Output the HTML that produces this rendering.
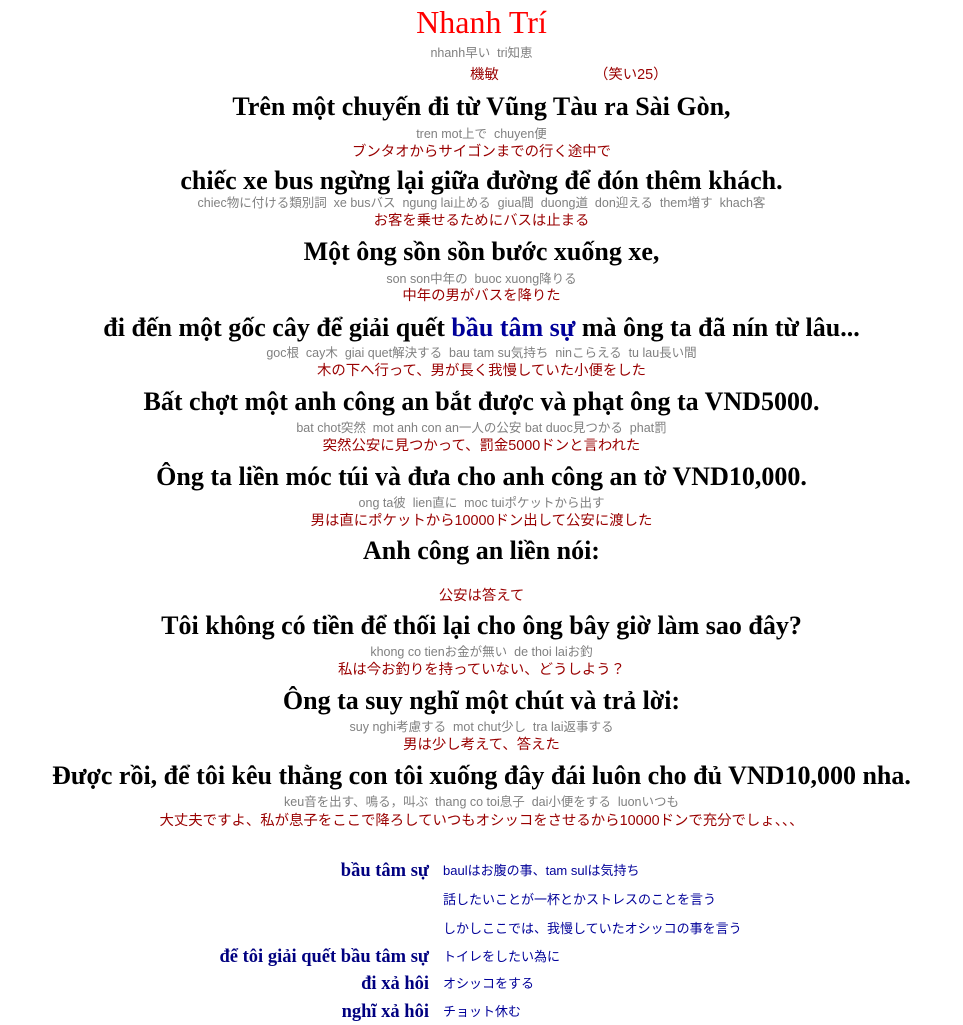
<!DOCTYPE html>
<html><head><meta charset="utf-8"><style>
body{margin:0;background:#fff;width:963px;height:1025px;position:relative;overflow:hidden}
.l{position:absolute;left:0;width:963px;text-align:center;white-space:nowrap}
.t{font-family:"Liberation Serif","Noto Serif CJK SC",serif;font-weight:bold;font-size:26px;line-height:30px;height:30px;color:#000}
.g{font-family:"Liberation Sans","Noto Sans CJK JP",sans-serif;font-size:12.5px;line-height:14px;height:14px;color:#808080}
.r{font-family:"Liberation Sans","Noto Sans CJK JP",sans-serif;font-size:14.4px;line-height:18px;height:18px;color:#990000}
.b{color:#000099}
.k{position:absolute;right:534px;font-family:"Liberation Serif",serif;font-weight:bold;font-size:18.5px;line-height:22px;color:#000080;white-space:nowrap}
.j{position:absolute;left:443px;font-family:"Liberation Sans","Noto Sans CJK JP",sans-serif;font-size:13px;line-height:16px;color:#000099;white-space:nowrap}
</style></head><body>
<div class="l" style="top:4px;font-family:'Liberation Serif',serif;font-size:32px;line-height:36px;color:#ff0000">Nhanh Trí</div>
<div class="l g" style="top:46px">nhanh早い&nbsp; tri知恵</div>
<div style="position:absolute;left:470px;top:66px" class="r">機敏</div>
<div style="position:absolute;left:594px;top:66px" class="r">（笑い25）</div>
<div class="l t" style="top:92px">Trên một chuyến đi từ Vũng Tàu ra Sài Gòn,</div>
<div class="l g" style="top:127px">tren mot上で&nbsp; chuyen便</div>
<div class="l r" style="top:143px">ブンタオからサイゴンまでの行く途中で</div>
<div class="l t" style="top:166px">chiếc xe bus ngừng lại giữa đường để đón thêm khách.</div>
<div class="l g" style="top:196px">chiec物に付ける類別詞&nbsp; xe busバス&nbsp; ngung lai止める&nbsp; giua間&nbsp; duong道&nbsp; don迎える&nbsp; them増す&nbsp; khach客</div>
<div class="l r" style="top:212px">お客を乗せるためにバスは止まる</div>
<div class="l t" style="top:237px">Một ông sồn sồn bước xuống xe,</div>
<div class="l g" style="top:272px">son son中年の&nbsp; buoc xuong降りる</div>
<div class="l r" style="top:287px">中年の男がバスを降りた</div>
<div class="l t" style="top:313px">đi đến một gốc cây để giải quết <span class="b">bầu tâm sự</span> mà ông ta đã nín từ lâu...</div>
<div class="l g" style="top:346px">goc根&nbsp; cay木&nbsp; giai quet解決する&nbsp; bau tam su気持ち&nbsp; ninこらえる&nbsp; tu lau長い間</div>
<div class="l r" style="top:362px">木の下へ行って、男が長く我慢していた小便をした</div>
<div class="l t" style="top:387px">Bất chợt một anh công an bắt được và phạt ông ta VND5000.</div>
<div class="l g" style="top:421px">bat chot突然&nbsp; mot anh con an一人の公安 bat duoc見つかる&nbsp; phat罰</div>
<div class="l r" style="top:437px">突然公安に見つかって、罰金5000ドンと言われた</div>
<div class="l t" style="top:462px">Ông ta liền móc túi và đưa cho anh công an tờ VND10,000.</div>
<div class="l g" style="top:496px">ong ta彼&nbsp; lien直に&nbsp; moc tuiポケットから出す</div>
<div class="l r" style="top:512px">男は直にポケットから10000ドン出して公安に渡した</div>
<div class="l t" style="top:536px">Anh công an liền nói:</div>
<div class="l r" style="top:587px">公安は答えて</div>
<div class="l t" style="top:611px">Tôi không có tiền để thối lại cho ông bây giờ làm sao đây?</div>
<div class="l g" style="top:645px">khong co tienお金が無い&nbsp; de thoi laiお釣</div>
<div class="l r" style="top:661px">私は今お釣りを持っていない、どうしよう？</div>
<div class="l t" style="top:686px">Ông ta suy nghĩ một chút và trả lời:</div>
<div class="l g" style="top:720px">suy nghi考慮する&nbsp; mot chut少し&nbsp; tra lai返事する</div>
<div class="l r" style="top:736px">男は少し考えて、答えた</div>
<div class="l t" style="top:761px">Được rồi, để tôi kêu thằng con tôi xuống đây đái luôn cho đủ VND10,000 nha.</div>
<div class="l g" style="top:795px">keu音を出す、鳴る，叫ぶ&nbsp; thang co toi息子&nbsp; dai小便をする&nbsp; luonいつも</div>
<div class="l r" style="top:812px">大丈夫ですよ、私が息子をここで降ろしていつもオシッコをさせるから10000ドンで充分でしょ、、、</div>
<div class="k" style="top:860px">bầu tâm sự</div>
<div class="j" style="top:863px">baulはお腹の事、tam sulは気持ち</div>
<div class="j" style="top:892px">話したいことが一杯とかストレスのことを言う</div>
<div class="j" style="top:921px">しかしここでは、我慢していたオシッコの事を言う</div>
<div class="k" style="top:946px">để tôi giải quết bầu tâm sự</div>
<div class="j" style="top:949px">トイレをしたい為に</div>
<div class="k" style="top:973px">đi xả hôi</div>
<div class="j" style="top:976px">オシッコをする</div>
<div class="k" style="top:1001px">nghĩ xả hôi</div>
<div class="j" style="top:1004px">チョット休む</div>
</body></html>
